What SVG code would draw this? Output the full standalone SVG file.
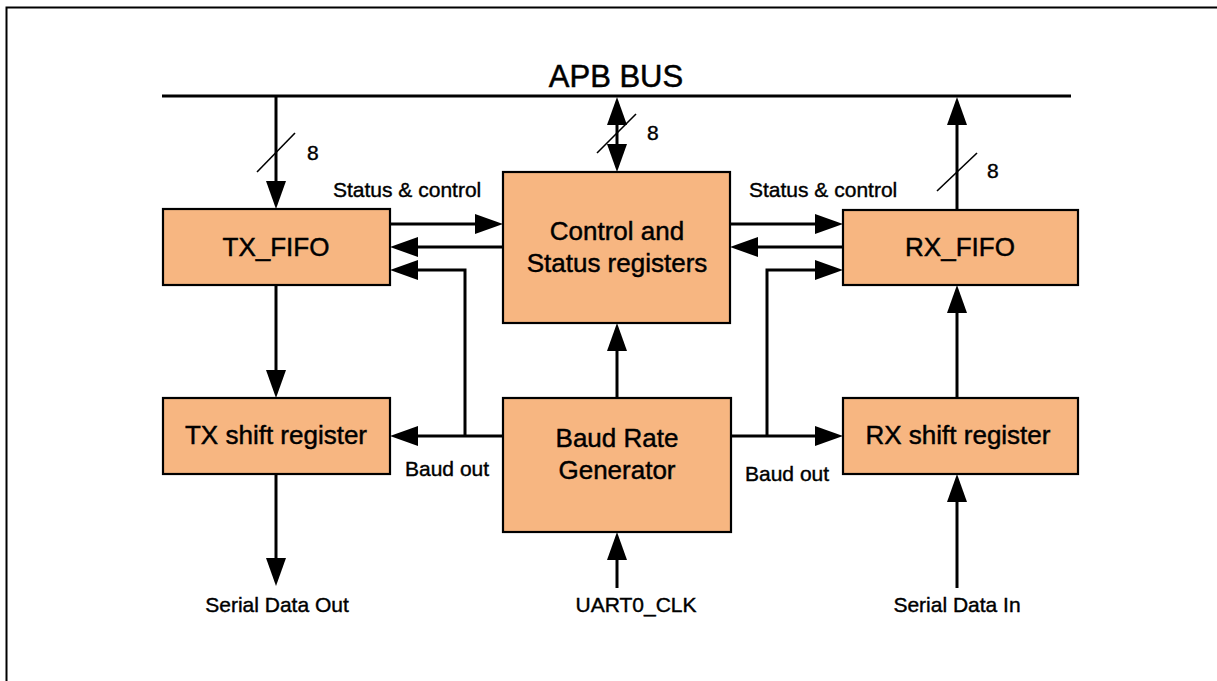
<svg xmlns="http://www.w3.org/2000/svg" width="1217" height="681" viewBox="0 0 1217 681">
<style>
  .box { fill: #F7B681; stroke: #000; stroke-width: 2.2; }
  .lbl { font-family: "Liberation Sans", Arial, sans-serif; font-size: 26px; fill: #000; stroke: #000; stroke-width: 0.45; text-anchor: middle; }
  .sm { font-family: "Liberation Sans", Arial, sans-serif; font-size: 21px; fill: #000; stroke: #000; stroke-width: 0.4; }
  .wire { fill: none; stroke: #000; stroke-width: 3; }
  .arr { fill: none; stroke: #000; stroke-width: 3; marker-end: url(#ah); }
  .slash { stroke: #000; stroke-width: 1.6; }
</style>
<defs>
  <marker id="ah" markerUnits="userSpaceOnUse" markerWidth="29" markerHeight="20" refX="0" refY="10" orient="auto" overflow="visible">
    <path d="M0,0 L28,10 L0,20 Z" fill="#000"/>
  </marker>
  <marker id="ahs" markerUnits="userSpaceOnUse" markerWidth="29" markerHeight="20" refX="0" refY="10" orient="auto-start-reverse" overflow="visible">
    <path d="M0,0 L28,10 L0,20 Z" fill="#000"/>
  </marker>
</defs>
<rect x="0" y="0" width="1217" height="681" fill="#fff"/>
<rect x="6.5" y="7.5" width="1230" height="700" fill="none" stroke="#000" stroke-width="2"/>

<g id="apb-bus">
  <line x1="162" y1="96" x2="1071" y2="96" stroke="#000" stroke-width="3"/>
  <text x="616" y="87" style="font-family:'Liberation Sans',Arial,sans-serif;font-size:31px;text-anchor:middle;stroke:#000;stroke-width:0.5">APB BUS</text>
</g>

<g id="connectors">
  <path class="arr" d="M276,96 V181"/>
  <path class="wire" d="M617,125 V144" marker-start="url(#ahs)" marker-end="url(#ahs)"/>
  <path class="arr" d="M957,210 V125"/>
  <path class="arr" d="M390,224 H475"/>
  <path class="arr" d="M503,247 H418"/>
  <path class="arr" d="M465,436 V270 H418"/>
  <path class="arr" d="M730,224 H815"/>
  <path class="arr" d="M843,247 H758"/>
  <path class="arr" d="M767,436 V270 H815"/>
  <path class="arr" d="M276,285 V370"/>
  <path class="arr" d="M957,398 V313"/>
  <path class="arr" d="M503,436 H418"/>
  <path class="arr" d="M731,436 H815"/>
  <path class="arr" d="M617,398 V351"/>
  <path class="arr" d="M276,474 V558"/>
  <path class="arr" d="M617,588 V560"/>
  <path class="arr" d="M957,588 V502"/>
  <line class="slash" x1="257" y1="172" x2="295" y2="133"/>
  <line class="slash" x1="597" y1="153" x2="636" y2="114"/>
  <line class="slash" x1="937" y1="191" x2="977" y2="153"/>
  <text class="sm" x="307" y="160">8</text>
  <text class="sm" x="647" y="140">8</text>
  <text class="sm" x="987" y="178">8</text>
  <text class="sm" x="333" y="197">Status &amp; control</text>
  <text class="sm" x="749" y="197">Status &amp; control</text>
  <text class="sm" x="405" y="476">Baud out</text>
  <text class="sm" x="745" y="481">Baud out</text>
  <text class="sm" x="277" y="612" text-anchor="middle">Serial Data Out</text>
  <text class="sm" x="636" y="612" text-anchor="middle">UART0_CLK</text>
  <text class="sm" x="957" y="612" text-anchor="middle">Serial Data In</text>
</g>

<g id="tx-fifo">
  <rect class="box" x="163" y="209" width="227" height="76"/>
  <text class="lbl" x="276" y="256">TX_FIFO</text>
</g>
<g id="control-status">
  <rect class="box" x="503" y="172" width="227" height="151"/>
  <text class="lbl" x="617" y="240">Control and</text>
  <text class="lbl" x="617" y="272">Status registers</text>
</g>
<g id="rx-fifo">
  <rect class="box" x="843" y="210" width="235" height="75"/>
  <text class="lbl" x="960" y="256">RX_FIFO</text>
</g>
<g id="tx-shift">
  <rect class="box" x="163" y="398" width="227" height="76"/>
  <text class="lbl" x="276" y="444">TX shift register</text>
</g>
<g id="baud-gen">
  <rect class="box" x="503" y="398" width="228" height="134"/>
  <text class="lbl" x="617" y="447">Baud Rate</text>
  <text class="lbl" x="617" y="479">Generator</text>
</g>
<g id="rx-shift">
  <rect class="box" x="843" y="398" width="235" height="76"/>
  <text class="lbl" x="958" y="444">RX shift register</text>
</g>
</svg>
